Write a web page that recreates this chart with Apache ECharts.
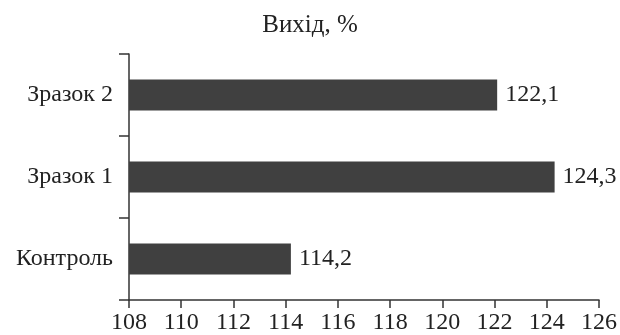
<!DOCTYPE html>
<html>
<head>
<meta charset="utf-8">
<script src="https://cdn.jsdelivr.net/npm/echarts@6/dist/echarts.min.js"></script>
<style>
  html, body { margin: 0; padding: 0; background: #fff; }
  #chart { width: 620px; height: 335px; }
</style>
</head>
<body>
<div id="chart"></div>
<script>
// Categories listed bottom to top, as ECharts draws a category y-axis
const categories = ['Контроль', 'Зразок 1', 'Зразок 2'];
const yieldValues = [114.2, 124.3, 122.1];
const xTicks = [108, 110, 112, 114, 116, 118, 120, 122, 124, 126];

const FONT = '"Liberation Serif", "Times New Roman", serif';
const INK = '#222';

const chart = echarts.init(document.getElementById('chart'), null, { renderer: 'canvas' });

chart.setOption({
  animation: false,
  backgroundColor: '#fff',
  title: {
    text: 'Вихід, %',
    left: 'center',
    top: 8,
    textStyle: { fontFamily: FONT, fontSize: 25, fontWeight: 'normal', color: INK }
  },
  grid: { left: 129, right: 20, top: 54, bottom: 35, containLabel: false },
  xAxis: {
    type: 'value',
    min: xTicks[0],
    max: xTicks[xTicks.length - 1],
    interval: 2,
    axisLine: { show: true, lineStyle: { color: '#333', width: 1.5 } },
    axisTick: { show: true, length: 8, lineStyle: { color: '#333', width: 1.5 } },
    splitLine: { show: false },
    axisLabel: {
      fontFamily: FONT, fontSize: 24, color: INK, margin: 11,
      formatter: v => xTicks.includes(v) ? String(v) : ''
    }
  },
  yAxis: {
    type: 'category',
    data: categories,
    boundaryGap: true,
    axisLine: { show: true, lineStyle: { color: '#333', width: 1.5 } },
    axisTick: { show: true, length: 10, alignWithLabel: false, lineStyle: { color: '#333', width: 1.5 } },
    axisLabel: { fontFamily: FONT, fontSize: 24, color: INK, margin: 16 }
  },
  series: [{
    type: 'bar',
    data: yieldValues,
    barWidth: 31,
    itemStyle: { color: '#404040' },
    label: {
      show: true,
      position: 'right',
      distance: 8,
      fontFamily: FONT,
      fontSize: 24,
      color: INK,
      formatter: p => p.value.toFixed(1).replace('.', ',')
    }
  }]
});
</script>
</body>
</html>
